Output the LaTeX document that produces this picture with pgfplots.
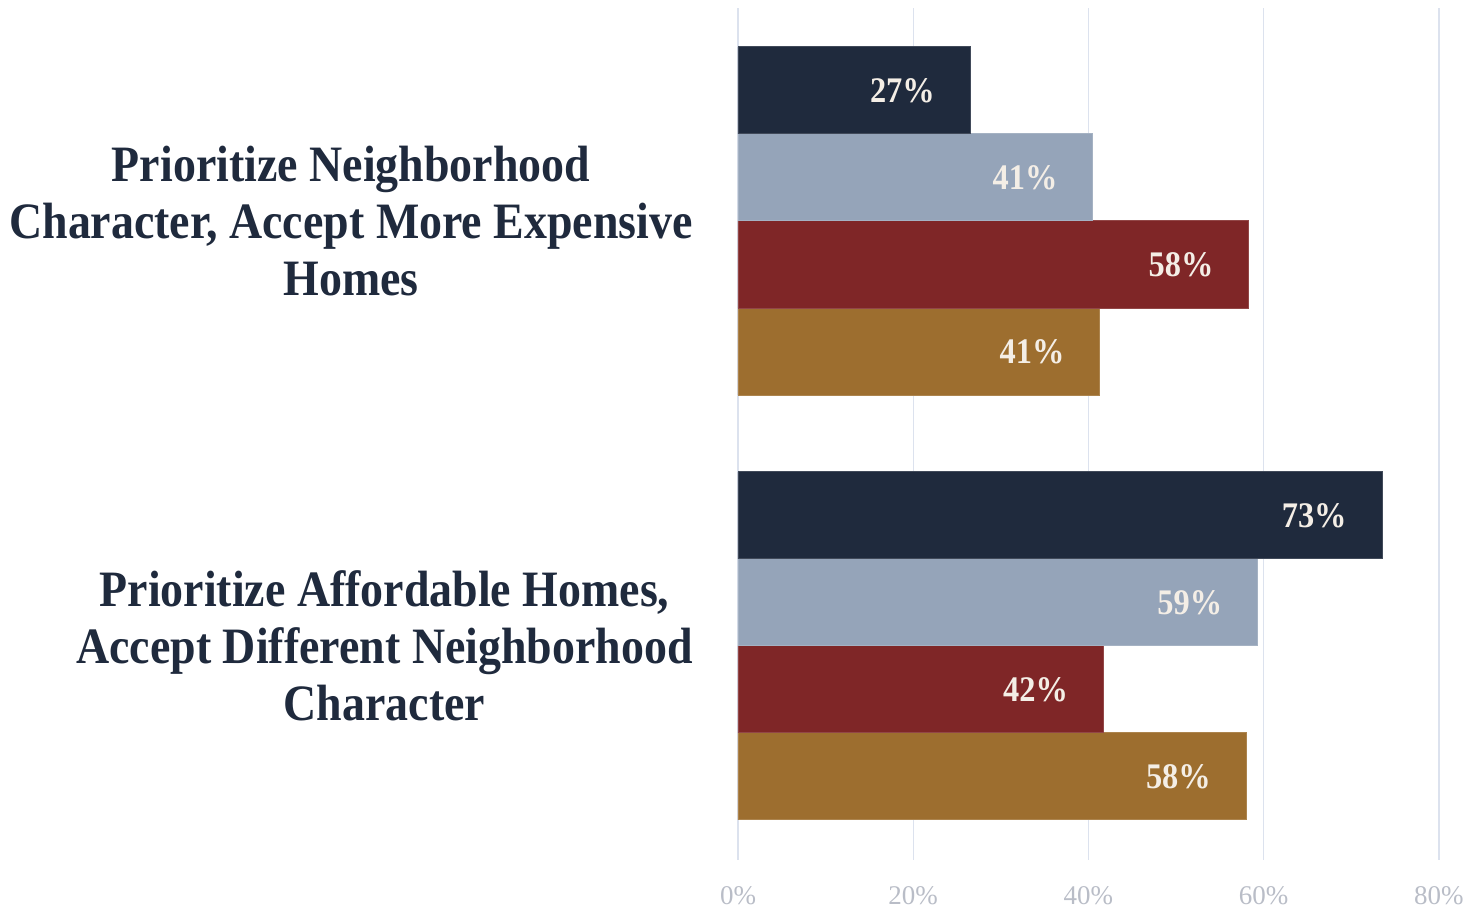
\documentclass[border=0pt]{standalone}
\usepackage{fontspec}
\setmainfont{Liberation Serif}
\newfontfamily\narrowserif[FakeStretch=0.9]{Liberation Serif}
\usepackage{pgfplots}
\pgfplotsset{compat=1.18}
\usepackage{pgfplotstable}

\definecolor{navy}{HTML}{1F2A3D}
\definecolor{slate}{HTML}{95A4B9}
\definecolor{brick}{HTML}{7F2627}
\definecolor{ochre}{HTML}{9D6E2F}
\definecolor{cream}{HTML}{F4EEE6}
\definecolor{gridc}{HTML}{DCE2EE}
\definecolor{tickc}{HTML}{B9BDC7}

% y: 0 = first statement, 1 = second statement
\pgfplotstableread{
y   x     lab
0   26.5  27\%
1   73.5  73\%
}\navydata
\pgfplotstableread{
y   x     lab
0   40.5  41\%
1   59.3  59\%
}\slatedata
\pgfplotstableread{
y   x     lab
0   58.3  58\%
1   41.7  42\%
}\brickdata
\pgfplotstableread{
y   x     lab
0   41.3  41\%
1   58.0  58\%
}\ochredata

\begin{document}
\begin{tikzpicture}
\useasboundingbox (0,0) rectangle (736pt,455.5pt);
\begin{axis}[
  at={(369pt,25.5pt)}, anchor=south west,
  scale only axis,
  width=350.5pt, height=426pt,
  xbar=0pt, bar width=43.5pt,
  y dir=reverse,
  xmin=0, xmax=80,
  ymin=-0.501, ymax=1.504,
  xtick={0,20,40,60,80},
  xticklabels={0\%,20\%,40\%,60\%,80\%},
  ytick={0,1},
  yticklabels={{Prioritize Neighborhood\\Character, Accept More Expensive\\Homes},
               {Prioritize Affordable Homes,\\Accept Different Neighborhood\\Character}},
  xmajorgrids, grid style={gridc, line width=0.6pt},
  axis line style={draw=none},
  major tick length=0pt,
  xticklabel style={font=\fontsize{13.5}{15}\selectfont, text=tickc, inner sep=0pt, anchor=north, yshift=-13pt},
  yticklabel style={font=\narrowserif\fontsize{25.5}{28.5}\selectfont\bfseries, text=navy, align=center, inner sep=0pt, anchor=east, xshift=-22.5pt},
  point meta=explicit symbolic,
  nodes near coords,
  every node near coord/.append style={anchor=east, inner sep=0pt, xshift=-17.5pt, text=cream, font=\narrowserif\fontsize{18}{20}\selectfont\bfseries},
]
% drawn bottom-up because of y dir=reverse
\addplot[fill=ochre, draw=ochre!85!white, line width=0.4pt] table[x=x, y=y, meta=lab] {\ochredata};
\addplot[fill=brick, draw=brick!85!white, line width=0.4pt] table[x=x, y=y, meta=lab] {\brickdata};
\addplot[fill=slate, draw=slate!85!white, line width=0.4pt] table[x=x, y=y, meta=lab] {\slatedata};
\addplot[fill=navy, draw=navy!85!white, line width=0.4pt] table[x=x, y=y, meta=lab] {\navydata};
\end{axis}
\end{tikzpicture}
\end{document}
